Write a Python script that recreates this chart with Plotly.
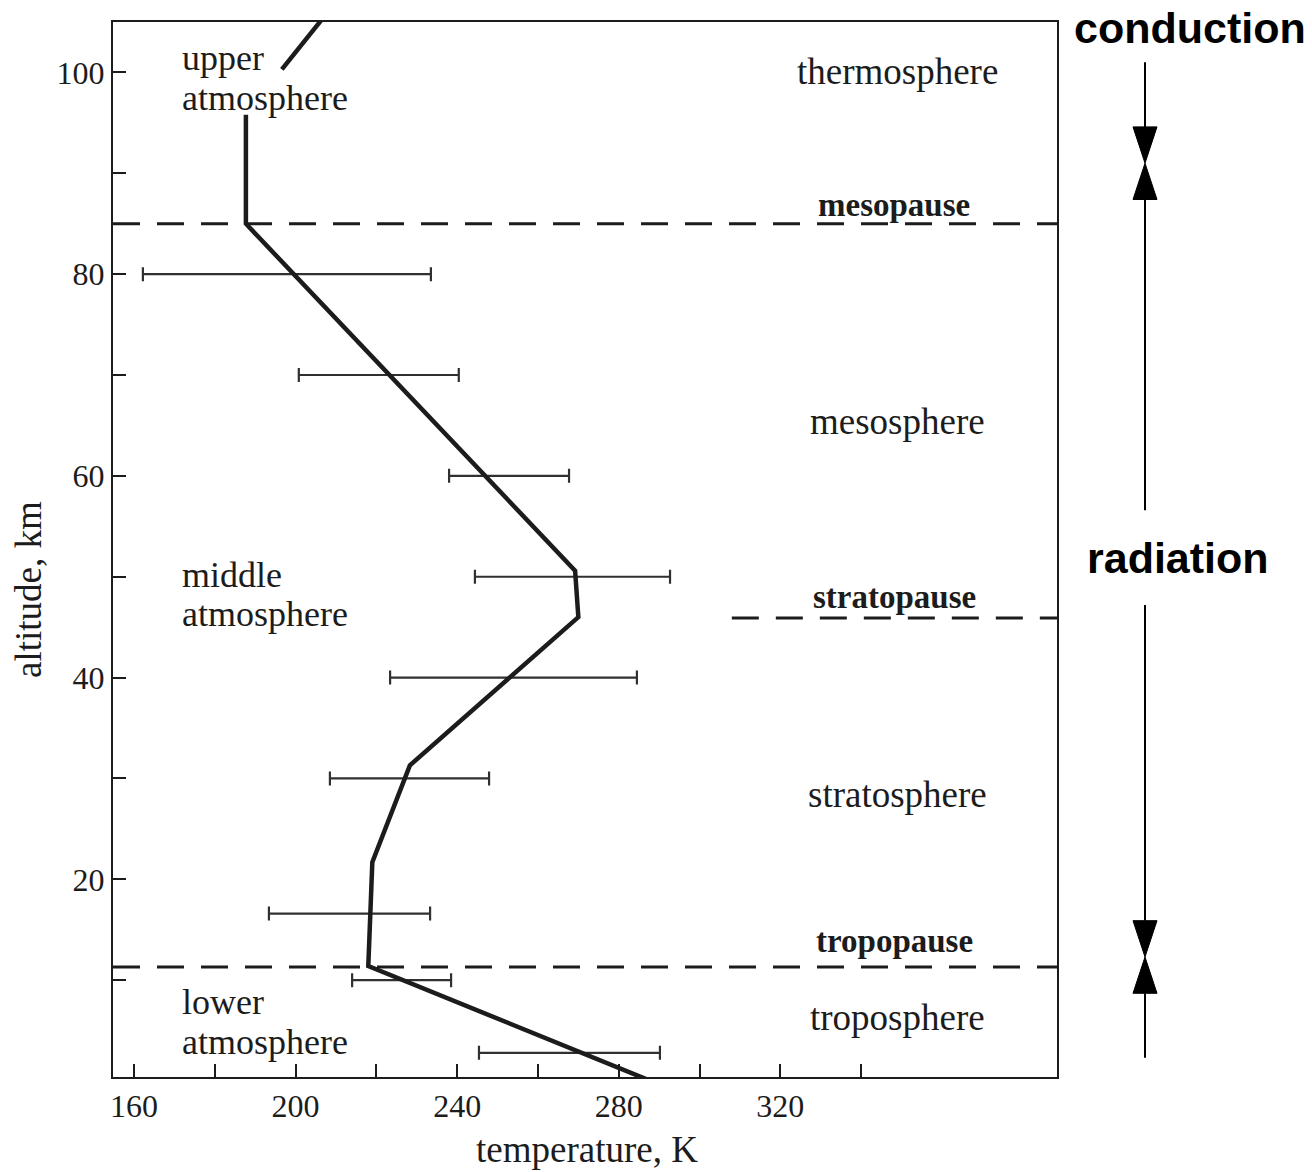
import plotly.graph_objects as go

# ---------------- data ----------------
# temperature profile (K) vs altitude (km); None = gap where the label sits
profile_T = [288, 218, 219, 228.3, 270, 269.2, 187.7, 187.7, None, 196.6, 210]
profile_z = [0, 11.4, 21.7, 31.3, 46, 50.6, 85.0, 95.8, None, 100.3, 107]

# horizontal range bars (temperature spread) at given altitudes
bar_z = [80, 70, 60, 50, 40, 30, 16.6, 10, 2.8]
bar_lo = [162.2, 200.8, 238.0, 244.4, 223.4, 208.5, 193.4, 214.0, 245.4]
bar_hi = [233.5, 240.4, 267.7, 292.7, 284.5, 247.9, 233.3, 238.5, 290.2]

# boundary layers (dashed lines)
pause_names = ["mesopause", "stratopause", "tropopause"]
pause_z = [85.0, 45.9, 11.3]
pause_T_start = [None, 308, None]  # None = from left axis

# layer names (right side)
layer_names = ["thermosphere", "mesosphere", "stratosphere", "troposphere"]
layer_z = [100.1, 65.4, 28.4, 6.3]
pause_label_z = [86.9, 48.0, 13.9]

# atmosphere region names (left side), two lines each
region_lines = [("upper", "atmosphere"), ("middle", "atmosphere"), ("lower", "atmosphere")]
region_line_z = [(101.4, 97.5), (50.2, 46.3), (7.8, 3.9)]

# heat transfer regimes (right margin)
regime_names = ["conduction", "radiation", "convection"]
regime_z = [104.4, 51.9, -0.4]
arrow_meet_z = [91.0, 12.3]      # where opposing arrows meet
arrow_span = [(101.0, 56.6), (47.2, 2.3)]  # outer ends of the arrow lines

x_tickvals = [160, 180, 200, 220, 240, 260, 280, 300, 320, 340]
x_ticktext = ["160", "", "200", "", "240", "", "280", "", "320", ""]
y_tickvals = [10, 20, 30, 40, 50, 60, 70, 80, 90, 100]
y_ticktext = ["", "20", "", "40", "", "60", "", "80", "", "100"]

X_RANGE = [154.8, 388.5]
Y_RANGE = [0.4, 105.0]

INK = "#1c1c1c"
SERIF = "Liberation Serif, Times New Roman, serif"
SANS = "Liberation Sans, Arial, sans-serif"

fig = go.Figure()

# range bars
mid = [(a + b) / 2 for a, b in zip(bar_lo, bar_hi)]
half = [(b - a) / 2 for a, b in zip(bar_lo, bar_hi)]
fig.add_trace(go.Scatter(
    x=mid, y=bar_z, mode="markers",
    marker=dict(size=1, color="rgba(0,0,0,0)"),
    error_x=dict(type="data", array=half, symmetric=True,
                 thickness=2.2, width=7, color="#303030"),
    showlegend=False, hoverinfo="skip"))

# profile
fig.add_trace(go.Scatter(
    x=profile_T, y=profile_z, mode="lines",
    line=dict(color=INK, width=4.5), connectgaps=False,
    showlegend=False))

shapes = []
for z, t0 in zip(pause_z, pause_T_start):
    shapes.append(dict(type="line", xref="x", yref="y",
                       x0=X_RANGE[0] if t0 is None else t0, x1=X_RANGE[1],
                       y0=z, y1=z,
                       line=dict(color=INK, width=3, dash="27px,17px")))

# arrows in right margin
plot_w = 1312 - 113 - 255
ax_x = (1145 - 113) / plot_w
half_w = 12 / plot_w
head_len = 3.6
for (top, bot), meet in zip(arrow_span, arrow_meet_z):
    shapes.append(dict(type="line", xref="paper", yref="y",
                       x0=ax_x, x1=ax_x, y0=top, y1=meet + head_len,
                       line=dict(color="black", width=2)))
    shapes.append(dict(type="line", xref="paper", yref="y",
                       x0=ax_x, x1=ax_x, y0=bot, y1=meet - head_len,
                       line=dict(color="black", width=2)))
    shapes.append(dict(type="path", xref="paper", yref="y",
                       path=f"M {ax_x - half_w},{meet + head_len} L {ax_x + half_w},{meet + head_len} L {ax_x},{meet} Z",
                       fillcolor="black", line=dict(color="black", width=1)))
    shapes.append(dict(type="path", xref="paper", yref="y",
                       path=f"M {ax_x - half_w},{meet - head_len} L {ax_x + half_w},{meet - head_len} L {ax_x},{meet} Z",
                       fillcolor="black", line=dict(color="black", width=1)))

ann = []
LABEL_T = 349
for name, z in zip(layer_names, layer_z):
    ann.append(dict(x=LABEL_T, y=z, xref="x", yref="y", text=name, showarrow=False,
                    xanchor="center", yanchor="middle",
                    font=dict(family=SERIF, size=37, color=INK)))
for name, z in zip(pause_names, pause_label_z):
    ann.append(dict(x=LABEL_T - 0.8, y=z, xref="x", yref="y", text=f"<b>{name}</b>", showarrow=False,
                    xanchor="center", yanchor="middle",
                    font=dict(family=SERIF, size=33, color=INK)))
REGION_T = 171.4
for lines, zs in zip(region_lines, region_line_z):
    for txt, z in zip(lines, zs):
        ann.append(dict(x=REGION_T, y=z, xref="x", yref="y", text=txt, showarrow=False,
                        xanchor="left", yanchor="middle",
                        font=dict(family=SERIF, size=36, color=INK)))
regime_x = [(1190 - 113) / plot_w, (1178 - 113) / plot_w, (1176 - 113) / plot_w]
for name, z, xp in zip(regime_names, regime_z, regime_x):
    ann.append(dict(x=xp, y=z, xref="paper", yref="y", text=f"<b>{name}</b>", showarrow=False,
                    xanchor="center", yanchor="middle",
                    font=dict(family=SANS, size=43, color="black")))

# axis titles
ann.append(dict(x=0.502, y=(1077 - 1172) / 1055, xref="paper", yref="paper", text="temperature, K",
                showarrow=False, xanchor="center", yanchor="bottom",
                font=dict(family=SERIF, size=37, color=INK)))
ann.append(dict(x=(28 - 113) / plot_w, y=0.4616, xref="paper", yref="paper", text="altitude, km",
                showarrow=False, xanchor="center", yanchor="middle", textangle=-90,
                font=dict(family=SERIF, size=37, color=INK)))

axis_common = dict(showgrid=False, zeroline=False, showline=True, linecolor=INK, linewidth=2,
                   mirror=True, ticks="inside", ticklen=13, tickwidth=2, tickcolor=INK,
                   tickfont=dict(family=SERIF, size=32, color=INK))

fig.update_layout(
    width=1312, height=1172,
    margin=dict(l=113, r=255, t=22, b=95),
    paper_bgcolor="white", plot_bgcolor="white",
    xaxis=dict(range=X_RANGE, tickmode="array", tickvals=x_tickvals, ticktext=x_ticktext,
               ticklabelstandoff=0, **axis_common),
    yaxis=dict(range=Y_RANGE, tickmode="array", tickvals=y_tickvals, ticktext=y_ticktext,
               ticklabelstandoff=0, **axis_common),
    shapes=shapes, annotations=ann, showlegend=False,
)

fig.write_html("out.html", config={"displayModeBar": False},
               post_script="document.body.style.margin='0';document.body.style.overflow='hidden';")
